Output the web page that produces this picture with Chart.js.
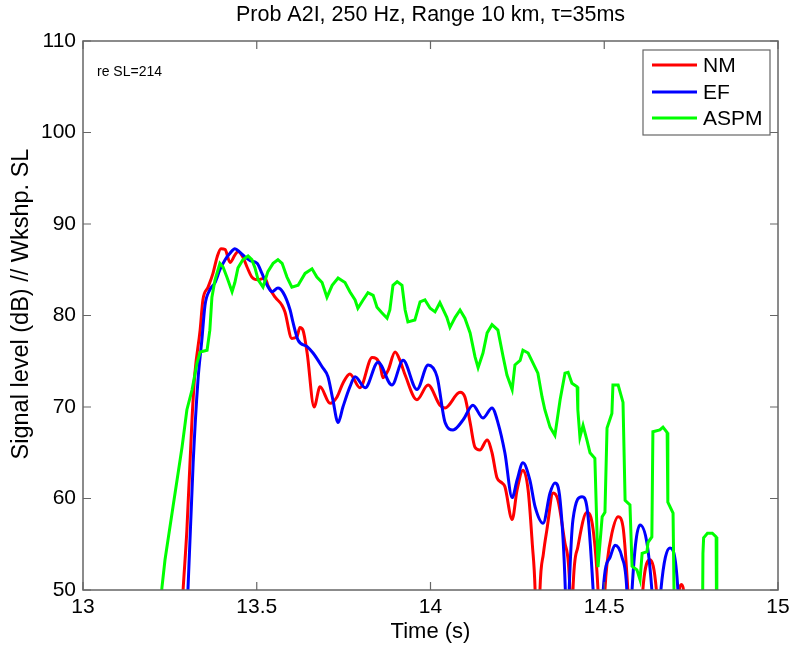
<!DOCTYPE html>
<html><head><meta charset="utf-8">
<script src="https://cdn.jsdelivr.net/npm/chart.js@4.4.0/dist/chart.umd.min.js"></script>
<style>html,body{margin:0;padding:0;background:#fff;}#wrap{width:789px;height:645px;}</style>
</head><body><div id="wrap"><canvas id="c" width="789" height="645"></canvas></div>
<script>
const chartTitle = 'Prob A2I, 250 Hz, Range 10 km, \u03C4=35ms';
const xAxisTitle = 'Time (s)';
const yAxisTitle = 'Signal level (dB) // Wkshp. SL';
const annotation = 're SL=214';
const seriesNames = ['NM', 'EF', 'ASPM'];
const xTicks = [13, 13.5, 14, 14.5, 15];
const yTicks = [50, 60, 70, 80, 90, 100, 110];

const nmTime = [13.270,13.288,13.299,13.314,13.322,13.337,13.345,13.360,13.374,13.386,13.397,13.409,13.423,13.437,13.446,13.460,13.472,13.486,13.504,13.524,13.532,13.553,13.573,13.581,13.601,13.616,13.624,13.633,13.645,13.665,13.682,13.711,13.731,13.748,13.768,13.797,13.832,13.855,13.863,13.878,13.898,13.912,13.927,13.961,13.993,14.027,14.042,14.085,14.099,14.114,14.128,14.142,14.163,14.177,14.191,14.206,14.214,14.235,14.249,14.266,14.281,14.293,14.301,14.308,14.315,14.325,14.335,14.353,14.367,14.387,14.401,14.405,14.410,14.424,14.450,14.468,14.482,14.492,14.502,14.508,14.522,14.540,14.554,14.568,14.585,14.603,14.611,14.632,14.650,14.665,14.705,14.716,14.722,14.728,14.740];
const nmLevel = [38,50,56.6,68.9,73.7,78.4,81.7,83.1,84.6,86.4,87.3,87.2,85.8,86.6,87.0,86.4,85.3,84.2,83.9,84.1,83.3,82.0,81.1,80.4,77.5,77.7,78.7,78.4,75.9,70.0,72.2,70.4,71.1,72.6,73.6,72.1,75.4,74.6,73.2,74.0,76.0,75.1,73.5,70.8,72.4,70.2,69.9,71.6,71.1,68.3,65.6,65.3,66.4,65.0,62.3,61.7,61.3,57.7,60.9,63.1,60.9,55,50,38,50,54,56.6,60.6,59.8,55.1,50,40,50,54.7,58.5,56.6,50,40,50,52.9,56.2,58.0,56.9,50,38,44,50,53.3,50,40,40,50,50.6,50,40];

const efTime = [13.285,13.302,13.317,13.331,13.342,13.351,13.365,13.380,13.394,13.409,13.423,13.437,13.452,13.466,13.481,13.501,13.515,13.530,13.544,13.561,13.576,13.596,13.604,13.619,13.645,13.662,13.688,13.705,13.719,13.734,13.748,13.768,13.783,13.812,13.849,13.889,13.921,13.961,13.993,14.019,14.042,14.065,14.094,14.122,14.151,14.177,14.194,14.214,14.235,14.249,14.266,14.286,14.301,14.324,14.344,14.358,14.373,14.388,14.393,14.399,14.410,14.436,14.450,14.468,14.480,14.490,14.497,14.517,14.531,14.551,14.565,14.572,14.580,14.603,14.623,14.637,14.650,14.663,14.689,14.712,14.722];
const efLevel = [38,50,63.9,73.0,77.3,81.1,82.8,83.6,85.0,86.1,86.8,87.3,86.9,86.4,86.0,85.7,84.6,83.3,82.6,83.0,82.5,80.6,79.3,77.3,76.6,75.9,74.4,73.3,70.8,68.3,70.0,72.2,73.3,72.1,74.9,72.4,75.1,71.9,74.6,73.3,68.3,67.5,68.6,70.2,68.8,69.9,68.3,65.0,60.1,62.0,63.9,62.0,59.1,57.3,60.6,61.7,59.8,50,42,50,57.7,60.2,59.1,50,40,40,50,53.6,54.9,53.6,50,42,50,57.1,55.1,50,42,50,54.6,50,40];

const aspmTime = [13.210,13.227,13.236,13.259,13.285,13.299,13.314,13.328,13.337,13.357,13.365,13.371,13.380,13.394,13.403,13.414,13.429,13.437,13.446,13.460,13.475,13.486,13.495,13.504,13.518,13.532,13.547,13.561,13.573,13.587,13.601,13.619,13.639,13.659,13.673,13.688,13.702,13.717,13.734,13.754,13.768,13.783,13.791,13.806,13.820,13.835,13.846,13.860,13.875,13.883,13.892,13.904,13.918,13.927,13.935,13.955,13.970,13.984,13.999,14.013,14.027,14.047,14.056,14.071,14.085,14.099,14.114,14.128,14.137,14.151,14.163,14.177,14.194,14.209,14.220,14.235,14.243,14.258,14.266,14.281,14.295,14.309,14.321,14.329,14.344,14.358,14.373,14.387,14.396,14.407,14.422,14.424,14.430,14.439,14.450,14.459,14.473,14.482,14.494,14.502,14.508,14.522,14.525,14.540,14.554,14.560,14.574,14.580,14.594,14.603,14.609,14.623,14.626,14.637,14.640,14.660,14.669,14.681,14.683,14.698,14.704,14.715,14.780,14.784,14.786,14.797,14.811,14.822,14.824,14.835];
const aspmLevel = [35,50.2,53.3,59.1,65.6,69.7,71.9,74.8,76.0,76.2,78.4,82.0,83.9,85.7,85.3,84.2,82.6,83.6,85.2,86.1,86.5,86.1,85.2,83.9,83.1,84.8,85.7,86.1,85.7,84.2,83.1,83.3,84.6,85.1,84.2,83.6,82.0,83.3,84.1,83.6,82.6,81.7,80.8,81.7,82.5,82.2,80.9,80.3,79.7,80.6,83.3,83.7,83.3,80.6,79.3,79.5,81.5,81.7,80.8,80.4,81.4,79.8,78.7,79.8,80.6,79.7,78.1,75.5,74.3,75.9,78.1,79.0,78.4,75.5,73.5,71.9,74.6,75.1,76.2,75.9,74.8,73.7,71.1,69.7,67.8,66.9,70.8,73.7,73.8,72.6,72.2,69.7,66.7,68.0,66.4,65.0,64.4,52.5,58.0,58.5,67.7,69.3,72.4,72.4,70.5,59.8,59.3,52.6,52.2,51.1,54.0,54.2,55.2,55.8,67.3,67.5,67.8,67.2,59.6,58.4,40,30,30,54.0,55.7,56.2,56.2,55.8,40,30];

const seriesColors = ['#ff0000', '#0000ff', '#00ff00'];
const axisColor = '#666666';
const FONT = "'Liberation Sans', Arial, Helvetica, sans-serif";

function pts(t, v) { return t.map((x, i) => ({x: x, y: v[i]})); }

const decor = {
  id: 'decor',
  afterDatasetsDraw(chart) {
    const {ctx, chartArea: a, scales} = chart;
    const xs = scales.x, ys = scales.y;
    ctx.save();
    ctx.strokeStyle = axisColor;
    ctx.lineWidth = 1.5;
    ctx.strokeRect(a.left, a.top, a.right - a.left, a.bottom - a.top);
    ctx.lineWidth = 1.2;
    const tl = 8;
    ctx.beginPath();
    xTicks.forEach(v => {
      const px = xs.getPixelForValue(v);
      ctx.moveTo(px, a.bottom); ctx.lineTo(px, a.bottom - tl);
      ctx.moveTo(px, a.top); ctx.lineTo(px, a.top + tl);
    });
    yTicks.forEach(v => {
      const py = ys.getPixelForValue(v);
      ctx.moveTo(a.left, py); ctx.lineTo(a.left + tl, py);
      ctx.moveTo(a.right, py); ctx.lineTo(a.right - tl, py);
    });
    ctx.stroke();

    // title
    ctx.fillStyle = '#000';
    ctx.textAlign = 'center';
    ctx.textBaseline = 'middle';
    ctx.font = '21.5px ' + FONT;
    ctx.fillText(chartTitle, (a.left + a.right) / 2, 15);

    // y axis title
    ctx.save();
    ctx.translate(22, 304);
    ctx.rotate(-Math.PI / 2);
    ctx.font = '23.5px ' + FONT;
    ctx.fillText(yAxisTitle, 0, 0);
    ctx.restore();

    // annotation
    ctx.textAlign = 'left';
    ctx.font = '14px ' + FONT;
    ctx.fillText(annotation, a.left + 14, 72);

    // legend
    const lx = 643, ly = 50, lw = 127, lh = 85;
    ctx.fillStyle = '#fff';
    ctx.fillRect(lx, ly, lw, lh);
    ctx.strokeStyle = axisColor;
    ctx.lineWidth = 1.2;
    ctx.strokeRect(lx, ly, lw, lh);
    ctx.font = '21px ' + FONT;
    const rows = [65, 92, 118];
    seriesNames.forEach((n, i) => {
      ctx.strokeStyle = seriesColors[i];
      ctx.lineWidth = 3;
      ctx.beginPath();
      ctx.moveTo(652, rows[i]); ctx.lineTo(697, rows[i]);
      ctx.stroke();
      ctx.fillStyle = '#000';
      ctx.fillText(n, 703, rows[i] + 1);
    });
    ctx.restore();
  }
};

new Chart(document.getElementById('c'), {
  type: 'line',
  data: {
    datasets: [
      {label: seriesNames[0], data: pts(nmTime, nmLevel), borderColor: seriesColors[0], borderWidth: 3, pointRadius: 0, cubicInterpolationMode: 'monotone', order: 2},
      {label: seriesNames[1], data: pts(efTime, efLevel), borderColor: seriesColors[1], borderWidth: 3, pointRadius: 0, cubicInterpolationMode: 'monotone', order: 1},
      {label: seriesNames[2], data: pts(aspmTime, aspmLevel), borderColor: seriesColors[2], borderWidth: 3, pointRadius: 0, tension: 0, order: 0}
    ]
  },
  options: {
    responsive: false,
    animation: false,
    devicePixelRatio: 1,
    layout: {padding: {top: 41, right: 11, left: 0, bottom: 0}},
    plugins: {legend: {display: false}, tooltip: {enabled: false}, title: {display: false}},
    scales: {
      x: {
        type: 'linear', min: 13, max: 15,
        afterFit(s) { s.height = 55; s.paddingRight = 0; s.paddingLeft = 0; },
        afterBuildTicks(s) { s.ticks = xTicks.map(v => ({value: v})); },
        grid: {display: false, drawTicks: false},
        border: {display: false},
        ticks: {padding: 5, color: '#000', font: {family: FONT, size: 21}, maxRotation: 0, autoSkip: false, callback: v => String(v)},
        title: {display: true, text: xAxisTitle, color: '#000', font: {family: FONT, size: 22}, padding: {top: 0, bottom: 0}}
      },
      y: {
        type: 'linear', min: 50, max: 110,
        afterFit(s) { s.width = 83; s.paddingTop = 0; s.paddingBottom = 0; },
        afterBuildTicks(s) { s.ticks = yTicks.map(v => ({value: v})); },
        grid: {display: false, drawTicks: false},
        border: {display: false},
        ticks: {padding: 7, color: '#000', font: {family: FONT, size: 21}, autoSkip: false, callback: v => String(v)},
        title: {display: false}
      }
    }
  },
  plugins: [decor]
});
</script>
</body></html>
